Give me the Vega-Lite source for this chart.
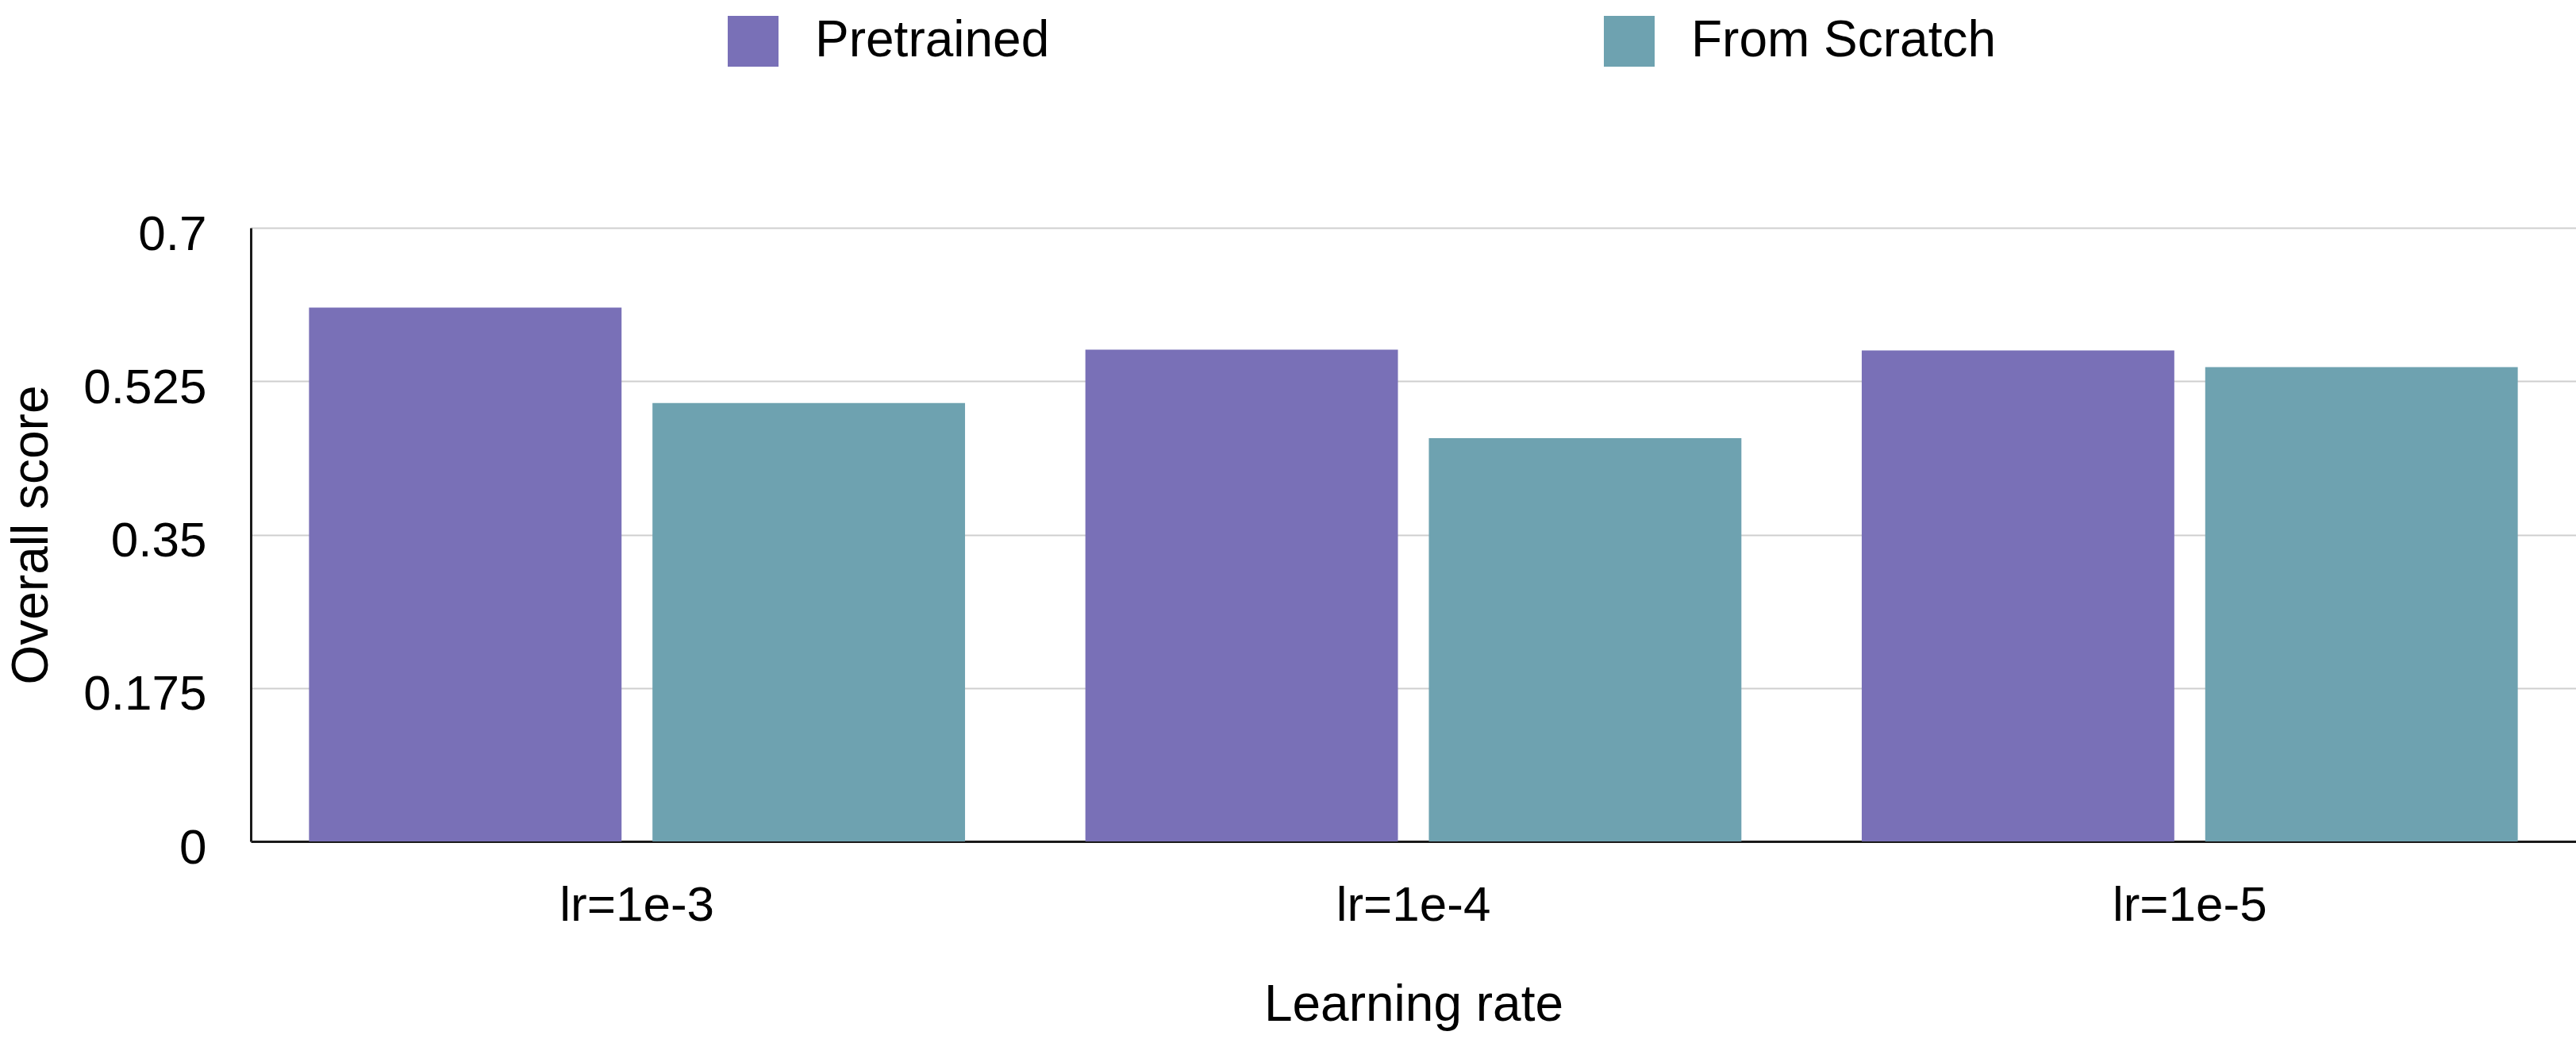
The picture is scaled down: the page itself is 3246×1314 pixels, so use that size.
{
  "$schema": "https://vega.github.io/schema/vega-lite/v6.json",
  "width": 2930,
  "height": 773,
  "autosize": {"type": "none"},
  "padding": {"left": 316, "top": 287, "right": 0, "bottom": 254},
  "background": "white",
  "data": {
    "values": [
      {"lr": "lr=1e-3", "model": "Pretrained", "score": 0.609},
      {"lr": "lr=1e-3", "model": "From Scratch", "score": 0.5},
      {"lr": "lr=1e-4", "model": "Pretrained", "score": 0.561},
      {"lr": "lr=1e-4", "model": "From Scratch", "score": 0.46},
      {"lr": "lr=1e-5", "model": "Pretrained", "score": 0.56},
      {"lr": "lr=1e-5", "model": "From Scratch", "score": 0.541}
    ]
  },
  "mark": {"type": "bar"},
  "encoding": {
    "x": {
      "field": "lr",
      "type": "nominal",
      "sort": null,
      "scale": {"paddingInner": 0.155, "paddingOuter": 0.075},
      "axis": {
        "title": "Learning rate",
        "labelAngle": 0,
        "labelLimit": 2000,
        "ticks": false,
        "tickSize": 0,
        "labelPadding": 50,
        "titlePadding": 63,
        "grid": false
      }
    },
    "xOffset": {
      "field": "model",
      "type": "nominal",
      "sort": ["Pretrained", "From Scratch"],
      "scale": {"paddingInner": 0.09, "paddingOuter": 0}
    },
    "y": {
      "field": "score",
      "type": "quantitative",
      "scale": {"domain": [0, 0.7], "nice": false},
      "axis": {
        "title": "Overall score",
        "values": [0, 0.175, 0.35, 0.525, 0.7],
        "labelExpr": "format(datum.value, '.3~f')",
        "labelLimit": 2000,
        "labelOffset": 8,
        "ticks": false,
        "tickSize": 0,
        "labelPadding": 56,
        "titlePadding": 44,
        "grid": true
      }
    },
    "color": {
      "field": "model",
      "type": "nominal",
      "sort": ["Pretrained", "From Scratch"],
      "scale": {
        "domain": ["Pretrained", "From Scratch"],
        "range": ["#7970b7", "#6ea2b0"]
      },
      "legend": {
        "title": null,
        "orient": "none",
        "direction": "horizontal",
        "legendX": 601,
        "legendY": -267,
        "symbolType": "square",
        "symbolSize": 4096,
        "symbolStrokeWidth": 0,
        "symbolOpacity": 1,
        "labelOffset": 46,
        "labelLimit": 2000,
        "columnPadding": 698,
        "labelFontSize": 64,
        "labelFont": "Liberation Sans",
        "labelColor": "black",
        "padding": 0,
        "offset": 0
      }
    }
  },
  "config": {
    "view": {"stroke": null},
    "font": "Liberation Sans",
    "axis": {
      "labelFont": "Liberation Sans",
      "labelFontSize": 62,
      "labelColor": "black",
      "titleFont": "Liberation Sans",
      "titleFontSize": 64,
      "titleFontWeight": "normal",
      "titleColor": "black",
      "domainColor": "#1a1a1a",
      "domainWidth": 3,
      "gridColor": "#cfcfcf",
      "gridWidth": 2
    }
  }
}
